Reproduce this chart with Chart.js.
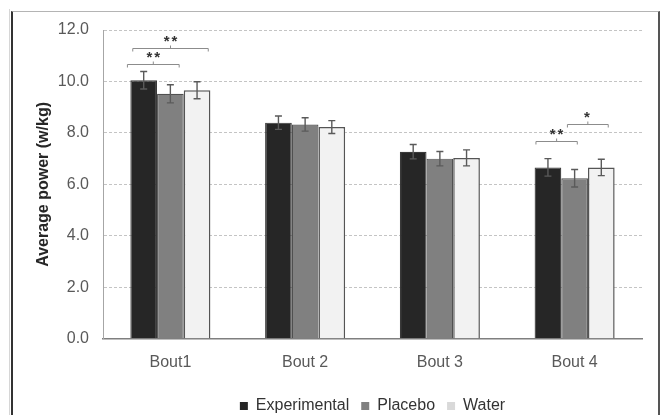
<!DOCTYPE html>
<html>
<head>
<meta charset="utf-8">
<script src="https://cdn.jsdelivr.net/npm/chart.js@4/dist/chart.umd.min.js"></script>
<style>
  html, body { margin: 0; padding: 0; background: #fff; }
  #wrap { position: relative; width: 661px; height: 415px; overflow: hidden; }
  #frame { position: absolute; left: 11px; top: 11px; width: 645px; height: 420px;
           border-left: 2px solid #333; border-top: 1px solid #b4b4b4; border-right: 2px solid #555; }
  #edge { position: absolute; left: 9px; top: 9px; width: 1px; height: 406px; background: #d6d6d6; }
  canvas { position: absolute; left: 0; top: 0; }
</style>
</head>
<body>
<div id="wrap">
  <div id="edge"></div>
  <div id="frame"></div>
  <canvas id="chart" width="661" height="428"></canvas>
</div>
<script>
// Average power per bout (w/kg), mean and SD for each condition
const categories   = ['Bout1', 'Bout 2', 'Bout 3', 'Bout 4'];
const experimental = [10.05, 8.40, 7.27, 6.66];
const placebo      = [9.52, 8.33, 7.00, 6.24];
const water        = [9.66, 8.23, 7.03, 6.66];
const sdExperimental = [0.34, 0.26, 0.28, 0.34];
const sdPlacebo      = [0.35, 0.26, 0.28, 0.34];
const sdWater        = [0.33, 0.25, 0.31, 0.32];
const yTicks = [0, 2, 4, 6, 8, 10, 12];

// Significance brackets: bout index, span in bar units from the first bar's centre, level (w/kg), label
const significance = [
  { bout: 0, span: [-0.61, 1.33], level: 10.67, label: '**' },
  { bout: 0, span: [-0.41, 2.42], level: 11.31, label: '**' },
  { bout: 3, span: [-0.45, 1.10], level: 7.69,  label: '**' },
  { bout: 3, span: [0.73, 2.26],  level: 8.35,  label: '*' }
];

const FONT = '"Liberation Sans", Arial, sans-serif';

const errorBars = {
  id: 'errorBars',
  afterDatasetsDraw(chart) {
    const { ctx, scales: { y } } = chart;
    const sds = [sdExperimental, sdPlacebo, sdWater];
    ctx.save();
    ctx.strokeStyle = '#5a5a5a';
    ctx.lineWidth = 1.4;
    chart.data.datasets.forEach((ds, di) => {
      const meta = chart.getDatasetMeta(di);
      meta.data.forEach((bar, i) => {
        const v = ds.data[i], e = sds[di][i];
        const top = y.getPixelForValue(v + e);
        const bot = y.getPixelForValue(v - e);
        const cap = 3.5;
        ctx.beginPath();
        ctx.moveTo(bar.x, top); ctx.lineTo(bar.x, bot);
        ctx.moveTo(bar.x - cap, top); ctx.lineTo(bar.x + cap, top);
        ctx.moveTo(bar.x - cap, bot); ctx.lineTo(bar.x + cap, bot);
        ctx.stroke();
      });
    });
    ctx.restore();
  }
};

const brackets = {
  id: 'brackets',
  afterDatasetsDraw(chart) {
    const { ctx, scales: { y } } = chart;
    const meta = chart.getDatasetMeta(0);
    ctx.save();
    significance.forEach(s => {
      const bar = meta.data[s.bout];
      const w = bar.width;
      const x1 = bar.x + s.span[0] * w;
      const x2 = bar.x + s.span[1] * w;
      const yy = Math.round(y.getPixelForValue(s.level)) + 0.5;
      const mid = (x1 + x2) / 2;
      ctx.strokeStyle = '#8c8c8c';
      ctx.lineWidth = 1;
      ctx.beginPath();
      ctx.moveTo(x1, yy + 3); ctx.lineTo(x1, yy); ctx.lineTo(x2, yy); ctx.lineTo(x2, yy + 3);
      ctx.moveTo(mid, yy); ctx.lineTo(mid, yy - 3);
      ctx.stroke();
      ctx.fillStyle = '#333';
      ctx.font = 'bold 15px ' + FONT;
      ctx.textAlign = 'center';
      ctx.textBaseline = 'alphabetic';
      if (ctx.letterSpacing !== undefined) ctx.letterSpacing = '2px';
      ctx.fillText(s.label, mid + (s.label.length > 1 ? 1 : 0), yy - 11 + 8.7);
    });
    ctx.restore();
  }
};

const colours = ['#262626', '#808080', '#f2f2f2'];
const legendColours = ['#262626', '#808080', '#d9d9d9'];

new Chart(document.getElementById('chart'), {
  type: 'bar',
  data: {
    labels: categories,
    datasets: [
      { label: 'Experimental', data: experimental, backgroundColor: colours[0], borderColor: '#3a3a3a', borderWidth: 1.2 },
      { label: 'Placebo',      data: placebo,      backgroundColor: colours[1], borderColor: '#505050', borderWidth: 1.2 },
      { label: 'Water',        data: water,        backgroundColor: colours[2], borderColor: '#555555', borderWidth: 1.5 }
    ]
  },
  options: {
    responsive: false,
    animation: false,
    events: [],
    layout: { padding: { left: 12, right: 19, top: 30, bottom: 4 } },
    datasets: { bar: { categoryPercentage: 0.594, barPercentage: 1.0 } },
    scales: {
      x: {
        grid: { display: false, drawTicks: false },
        border: { display: true, color: '#7f7f7f', width: 1.5 },
        ticks: { color: '#595959', font: { family: FONT, size: 16 }, padding: 14 }
      },
      y: {
        min: 0, max: 12,
        afterFit(scale) { scale.width = 91; },
        afterBuildTicks(scale) { scale.ticks = yTicks.map(v => ({ value: v })); },
        grid: { color: '#c4c4c4', lineWidth: 1, drawTicks: false },
        border: { display: true, color: '#a6a6a6', width: 1, dash: [3, 2] },
        ticks: { color: '#595959', font: { family: FONT, size: 16 }, padding: 14,
                 callback: v => Number(v).toFixed(1) },
        title: { display: true, text: 'Average power (w/kg)', color: '#262626',
                 font: { family: FONT, size: 16, weight: 'bold' }, padding: { top: 22, bottom: 0 } }
      }
    },
    plugins: {
      tooltip: { enabled: false },
      legend: {
        position: 'bottom',
        fullSize: false,
        labels: {
          color: '#333',
          font: { family: FONT, size: 16 },
          boxWidth: 8, boxHeight: 8, padding: 12,
          generateLabels(chart) {
            return chart.data.datasets.map((ds, i) => ({
              text: ds.label, fillStyle: legendColours[i], strokeStyle: legendColours[i],
              lineWidth: 0, hidden: false, datasetIndex: i, fontColor: '#333'
            }));
          }
        }
      }
    }
  },
  plugins: [errorBars, brackets]
});
</script>
</body>
</html>
